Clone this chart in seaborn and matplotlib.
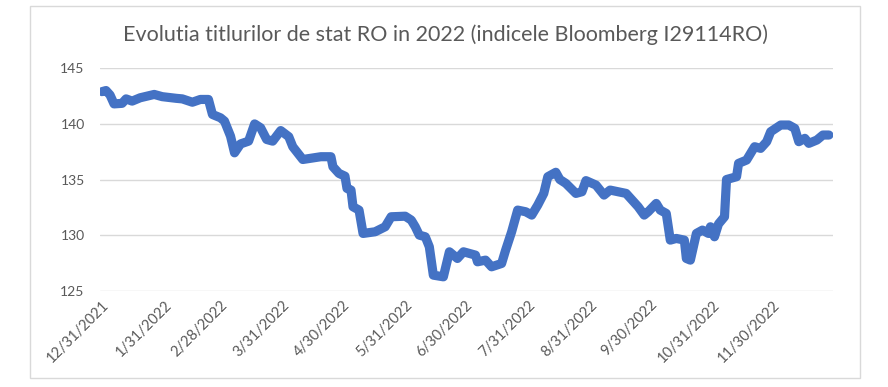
import pandas as pd
import numpy as np
import matplotlib.pyplot as plt
import matplotlib.dates as mdates
from matplotlib.patches import Rectangle
import seaborn as sns

sns.set_theme(style="white")
plt.rcParams['font.family'] = ['Lato', 'DejaVu Sans']

# -----------------------------
# Data
# -----------------------------
dates = [
    "2021-12-31", "2022-01-02", "2022-01-04", "2022-01-06", "2022-01-10", "2022-01-12",
    "2022-01-15", "2022-01-19", "2022-01-26", "2022-01-30", "2022-02-06", "2022-02-09",
    "2022-02-14", "2022-02-18", "2022-02-22", "2022-02-24", "2022-02-28", "2022-03-02",
    "2022-03-05", "2022-03-07", "2022-03-10", "2022-03-14", "2022-03-17", "2022-03-20",
    "2022-03-23", "2022-03-26", "2022-03-30", "2022-04-03", "2022-04-05", "2022-04-10",
    "2022-04-19", "2022-04-24", "2022-04-25", "2022-04-28", "2022-05-01", "2022-05-02",
    "2022-05-04", "2022-05-05", "2022-05-08", "2022-05-10", "2022-05-16", "2022-05-21",
    "2022-05-24", "2022-05-31", "2022-06-03", "2022-06-05", "2022-06-07", "2022-06-10",
    "2022-06-12", "2022-06-14", "2022-06-19", "2022-06-22", "2022-06-26", "2022-06-29",
    "2022-07-05", "2022-07-06", "2022-07-10", "2022-07-13", "2022-07-18", "2022-07-20",
    "2022-07-23", "2022-07-26", "2022-07-30", "2022-08-02", "2022-08-05", "2022-08-08",
    "2022-08-10", "2022-08-14", "2022-08-16", "2022-08-19", "2022-08-24", "2022-08-27",
    "2022-08-29", "2022-09-03", "2022-09-07", "2022-09-10", "2022-09-18", "2022-09-24",
    "2022-09-27", "2022-09-29", "2022-10-03", "2022-10-05", "2022-10-08", "2022-10-10",
    "2022-10-13", "2022-10-17", "2022-10-18", "2022-10-20", "2022-10-23", "2022-10-26",
    "2022-10-29", "2022-10-30", "2022-11-01", "2022-11-03", "2022-11-06", "2022-11-07",
    "2022-11-12", "2022-11-13", "2022-11-17", "2022-11-21", "2022-11-24", "2022-11-27",
    "2022-11-29", "2022-12-04", "2022-12-08", "2022-12-11", "2022-12-13", "2022-12-16",
    "2022-12-18", "2022-12-22", "2022-12-25", "2022-12-28",
]
values = [
    142.9, 143.0, 142.6, 141.8, 141.85, 142.25,
    142.05, 142.35, 142.65, 142.45, 142.3, 142.25,
    141.95, 142.2, 142.2, 140.85, 140.55, 140.25,
    138.9, 137.4, 138.2, 138.45, 140.0, 139.65,
    138.6, 138.45, 139.4, 138.85, 137.95, 136.8,
    137.05, 137.05, 136.15, 135.55, 135.3, 134.2,
    134.05, 132.55, 132.25, 130.15, 130.3, 130.75,
    131.65, 131.7, 131.35, 130.75, 130.0, 129.85,
    128.95, 126.4, 126.25, 128.5, 127.9, 128.5,
    128.2, 127.6, 127.75, 127.15, 127.45, 128.65,
    130.3, 132.25, 132.1, 131.8, 132.7, 133.75,
    135.25, 135.65, 135.0, 134.65, 133.75, 133.9,
    134.9, 134.5, 133.6, 134.05, 133.75, 132.55,
    131.8, 132.1, 132.85, 132.25, 131.95, 129.55,
    129.7, 129.55, 127.9, 127.75, 130.15, 130.45,
    130.15, 130.75, 129.85, 131.0, 131.65, 135.0,
    135.25, 136.45, 136.75, 137.95, 137.8, 138.4,
    139.3, 139.9, 139.9, 139.6, 138.4, 138.7,
    138.25, 138.55, 139.0, 139.0,
]
tick_dates = [
    "2021-12-31", "2022-01-31", "2022-02-28", "2022-03-31", "2022-04-30", "2022-05-31",
    "2022-06-30", "2022-07-31", "2022-08-31", "2022-09-30", "2022-10-31", "2022-11-30",
]
tick_labels = [
    "12/31/2021", "1/31/2022", "2/28/2022", "3/31/2022", "4/30/2022", "5/31/2022",
    "6/30/2022", "7/31/2022", "8/31/2022", "9/30/2022", "10/31/2022", "11/30/2022",
]
y_ticks = [125, 130, 135, 140, 145]

df = pd.DataFrame({"Date": pd.to_datetime(dates), "Index": values})

# -----------------------------
# Plot
# -----------------------------
fig = plt.figure(figsize=(8.88, 3.87), dpi=100)
ax = fig.add_axes([0.1126, 0.2488, 0.8254, 0.5747])

sns.lineplot(data=df, x="Date", y="Index", ax=ax, color="#4472C4", linewidth=6.6,
             solid_capstyle="round", solid_joinstyle="round")

ax.set_ylim(125, 145)
ax.set_yticks(y_ticks)
ax.set_xlim(pd.Timestamp("2021-12-30"), pd.Timestamp("2022-12-30"))
ax.set_xticks(pd.to_datetime(tick_dates))
ax.set_xticklabels(tick_labels, rotation=45, ha="right", rotation_mode="anchor")
ax.tick_params(axis="both", length=0, colors="#595959", labelsize=10)
ax.tick_params(axis="x", labelsize=10.5, pad=5)
ax.tick_params(axis="y", pad=11)

ax.grid(axis="y", color="#D9D9D9", linewidth=1)
ax.set_axisbelow(True)
for s in ax.spines.values():
    s.set_visible(False)
ax.set_xlabel("")
ax.set_ylabel("")

fig.text(0.502, 0.91, "Evolutia titlurilor de stat RO in 2022 (indicele Bloomberg I29114RO)",
         ha="center", va="center", fontsize=15.5, color="#595959")

# chart border
fig.patches.append(Rectangle((30 / 888, 1 - 378 / 387), 830 / 888, 372 / 387,
                             transform=fig.transFigure, fill=False,
                             edgecolor="#D9D9D9", linewidth=1))

fig.savefig("out.png", dpi=100)
